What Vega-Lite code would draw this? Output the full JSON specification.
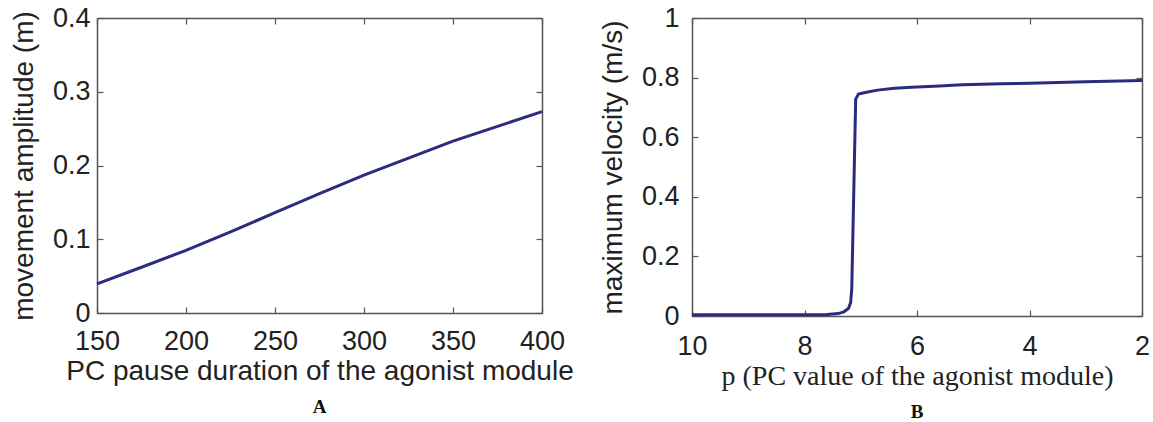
{
  "$schema": "https://vega.github.io/schema/vega-lite/v6.json",
  "background": "white",
  "padding": {"left": 10, "top": 4, "right": 2, "bottom": 2},
  "spacing": 25,
  "config": {
    "font": "Liberation Sans",
    "view": {"stroke": null},
    "axis": {
      "grid": false,
      "domainColor": "#555555",
      "domainWidth": 1.5,
      "tickColor": "#555555",
      "tickWidth": 1.2,
      "tickSize": -6,
      "labelFont": "Liberation Sans",
      "labelFontSize": 27,
      "labelColor": "#222222",
      "labelFlush": false,
      "labelOverlap": false,
      "titleFont": "Liberation Sans",
      "titleFontSize": 28,
      "titleFontWeight": "normal",
      "titleColor": "#222222"
    },
    "title": {
      "orient": "bottom",
      "font": "Liberation Serif",
      "fontSize": 19,
      "fontWeight": "bold",
      "anchor": "middle",
      "color": "#111111",
      "offset": 13
    }
  },
  "hconcat": [
    {
      "width": 445,
      "height": 295,
      "title": "A",
      "data": {
        "values": [
          {"pause": 150, "amp": 0.0395},
          {"pause": 175, "amp": 0.062},
          {"pause": 200, "amp": 0.085},
          {"pause": 225, "amp": 0.11},
          {"pause": 250, "amp": 0.136},
          {"pause": 275, "amp": 0.162},
          {"pause": 300, "amp": 0.187},
          {"pause": 325, "amp": 0.21},
          {"pause": 350, "amp": 0.233},
          {"pause": 375, "amp": 0.253},
          {"pause": 400, "amp": 0.273}
        ]
      },
      "layer": [
        {
          "mark": {"type": "line", "color": "#2b2b7f", "strokeWidth": 3},
          "encoding": {
            "x": {"field": "pause", "type": "quantitative", "scale": {"domain": [150, 400], "nice": false, "zero": false},
                  "axis": {"title": "PC pause duration of the agonist module", "values": [150, 200, 250, 300, 350, 400], "orient": "bottom", "labelPadding": 21, "titlePadding": 3}},
            "y": {"field": "amp", "type": "quantitative", "scale": {"domain": [0, 0.4], "nice": false},
                  "axis": {"title": "movement amplitude (m)", "values": [0, 0.1, 0.2, 0.3, 0.4], "format": "~g", "orient": "left", "labelPadding": 13, "titlePadding": 14}}
          }
        },
        {
          "mark": {"type": "line", "opacity": 0},
          "encoding": {
            "x": {"field": "pause", "type": "quantitative", "axis": {"orient": "top", "labels": false, "title": null, "values": [150, 200, 250, 300, 350, 400]}},
            "y": {"field": "amp", "type": "quantitative", "axis": {"orient": "right", "labels": false, "title": null, "values": [0, 0.1, 0.2, 0.3, 0.4]}}
          }
        }
      ],
      "resolve": {"axis": {"x": "independent", "y": "independent"}}
    },
    {
      "width": 450,
      "height": 298,
      "title": "B",
      "data": {
        "values": [
          {"p": 10, "v": 0.004},
          {"p": 9, "v": 0.004},
          {"p": 8, "v": 0.004},
          {"p": 7.6, "v": 0.005},
          {"p": 7.4, "v": 0.008},
          {"p": 7.3, "v": 0.014},
          {"p": 7.22, "v": 0.025},
          {"p": 7.18, "v": 0.045},
          {"p": 7.16, "v": 0.09},
          {"p": 7.09, "v": 0.728},
          {"p": 7.04, "v": 0.745},
          {"p": 6.9, "v": 0.751},
          {"p": 6.7, "v": 0.758},
          {"p": 6.4, "v": 0.764},
          {"p": 6.1, "v": 0.768},
          {"p": 5.6, "v": 0.772},
          {"p": 5.2, "v": 0.776},
          {"p": 4.5, "v": 0.779},
          {"p": 4, "v": 0.781},
          {"p": 3, "v": 0.786},
          {"p": 2, "v": 0.79}
        ]
      },
      "layer": [
        {
          "mark": {"type": "line", "color": "#2b2b7f", "strokeWidth": 3},
          "encoding": {
            "x": {"field": "p", "type": "quantitative", "scale": {"domain": [10, 2], "nice": false, "zero": false},
                  "axis": {"title": "p (PC value of the agonist module)", "titleFont": "Liberation Serif", "titleFontSize": 28, "values": [10, 8, 6, 4, 2], "orient": "bottom", "labelPadding": 23, "titlePadding": 3}},
            "y": {"field": "v", "type": "quantitative", "scale": {"domain": [0, 1], "nice": false},
                  "axis": {"title": "maximum velocity (m/s)", "values": [0, 0.2, 0.4, 0.6, 0.8, 1], "format": "~g", "orient": "left", "labelPadding": 19, "titlePadding": 14}}
          }
        },
        {
          "mark": {"type": "line", "opacity": 0},
          "encoding": {
            "x": {"field": "p", "type": "quantitative", "axis": {"orient": "top", "labels": false, "title": null, "values": [10, 8, 6, 4, 2]}},
            "y": {"field": "v", "type": "quantitative", "axis": {"orient": "right", "labels": false, "title": null, "values": [0, 0.2, 0.4, 0.6, 0.8, 1]}}
          }
        }
      ],
      "resolve": {"axis": {"x": "independent", "y": "independent"}}
    }
  ]
}
